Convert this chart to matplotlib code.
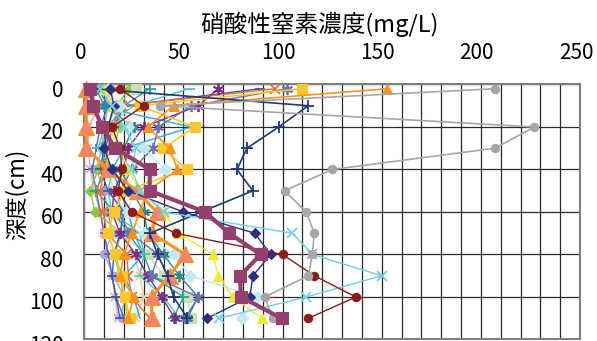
import numpy as np
import matplotlib
matplotlib.use("Agg")
import matplotlib.pyplot as plt
from matplotlib.transforms import ScaledTranslation

plt.rcParams['font.family'] = ['Noto Sans CJK JP', 'DejaVu Sans']

# sampling depths (cm)
depth = [2, 10, 20, 30, 40, 50, 60, 70, 80, 90, 100, 110]

x_ticks = [0, 50, 100, 150, 200, 250]
y_ticks = [0, 20, 40, 60, 80, 100, 120]

# nitrate-nitrogen concentration (mg/L) per sampling site
s_pink_x      = [16.3, 8, 2, 2, 3, 5, 8, 10, 12, 14, 15.5, 17]
s_lav_circle  = [9.3, 12.1, 10, 8.8, 6, 10, 12, 14, 10, 15, 20, 18.9]
s_blue_plus   = [7, 12, 8, 6, 4, 6, 8, 10, 12, 14, 16, 20]
s_peach       = [6, 18, 25, 20, 22, 18, 15, 20, 25, 28, 30, 26]
s_sky         = [3, 6, 54, 20, 14, 18, 22, 25, 30, 20, 25, 28]
s_green_dia   = [22.7, 16, 18, 14.6, 7, 2.9, 5.4, 18.9, 15, 18, 20, 22]
s_lgreen_sq   = [26, 16, 12, 10, 12, 15, 20, 18, 32, 40, 51.6, 54]
s_teal_plus   = [33, 20, 12, 9, 10, 6, 15, 22, 30, 34, 50, 45]
s_teal_dash   = [52.8, 25, 10, 7, 14, 12, 14, 28, 30, 28, 40, 48]
s_navy_dash   = [88.5, 20, 15, 10, 8, 12, 20, 18, 15, 14, 16, 18]
s_dteal_ast   = [6, 10, 25, 20, 18, 24, 30, 32, 40, 48, 57.4, 52]
s_orange_x    = [96, 18.9, 14, 12, 10, 8, 9.6, 11.3, 21.4, 22.2, 23.9, 33]
s_purple_ast  = [67.5, 57.4, 30, 22, 20, 15, 14, 18, 26, 32, 39, 45.7]
s_lav_ast     = [102.3, 54, 37.3, 34.8, 23.9, 18, 17, 23, 37.3, 34, 57.4, 50.8]
s_lcyan_dia   = [12, 18, 22, 30, 40.7, 25, 22, 30, 45, 53.3, 87.2, 79.3]
s_yellow_sq   = [109.6, 28, 55.8, 39.8, 51.6, 20.5, 15, 12, 15.5, 18.9, 20.5, 23]
s_yellow_tri  = [10, 14.6, 12, 18, 22, 28, 40, 47.4, 65, 67.5, 75, 89.4]
s_orange_tri  = [152.6, 45, 32, 43, 47, 32, 28, 24, 20, 18, 25, 22]
s_salmon_tri  = [1, 1, 1, 1, 12, 26.4, 36.5, 34, 51, 43, 34, 34]
s_navy_dia    = [13, 15, 12, 10, 14, 22, 50, 86, 94, 85, 83.5, 62]
s_navy_plus   = [5, 113, 98, 82, 77, 85, 59, 33, 37, 42, 45, 52]
s_cyan_x      = [8, 14, 20, 26, 24, 28, 40, 105, 115, 150, 112, 68]
s_maroon      = [18, 30, 14, 18, 19, 17, 24, 46, 100, 116, 137, 113]
s_gray        = [207, 38, 227, 207, 125, 101, 112, 116, 115, 113, 91, 95]
s_plum_sq     = [3, 4.5, 9, 15.5, 33, 33, 61, 73, 89, 78.5, 79, 99.5]

ast = (6, 2, 0)  # asterisk marker

series = [
    # values, line colour, marker, size, line width, marker face colour
    (s_pink_x,     '#f4a0c6', 'x', 6, 1.0, None),
    (s_lav_circle, '#b4a1d7', 'o', 6, 1.0, None),
    (s_blue_plus,  '#4a6fc0', '+', 6, 1.0, None),
    (s_peach,      '#f9c89b', 'x', 6, 1.0, None),
    (s_sky,        '#2aace2', '', 0, 1.0, None),
    (s_green_dia,  '#8dc63f', 'D', 5, 1.0, None),
    (s_lgreen_sq,  '#c6e0b4', 's', 7, 1.0, None),
    (s_teal_plus,  '#2a9c9c', '+', 8, 1.0, None),
    (s_teal_dash,  '#4ec4c8', '_', 8, 1.0, None),
    (s_navy_dash,  '#3b5aa8', '_', 7, 1.0, None),
    (s_dteal_ast,  '#2e8a90', ast, 8, 1.0, None),
    (s_orange_x,   '#f26b35', 'x', 7, 1.0, None),
    (s_purple_ast, '#7e2b87', ast, 8, 1.0, None),
    (s_lav_ast,    '#6e6fb3', ast, 8, 1.0, None),
    (s_lcyan_dia,  '#c2e9f3', 'D', 6, 1.0, None),
    (s_yellow_sq,  '#fcc72c', 's', 7, 1.2, None),
    (s_yellow_tri, '#efe83a', '^', 7, 1.0, None),
    (s_orange_tri, '#f7941d', '^', 7, 1.2, None),
    (s_salmon_tri, '#f7941d', '^', 11, 2.2, '#f4836f'),
    (s_navy_dia,   '#2b2e83', 'D', 5, 1.0, None),
    (s_navy_plus,  '#1f3b70', '+', 8, 1.2, None),
    (s_cyan_x,     '#72d0df', 'x', 7, 1.0, None),
    (s_maroon,     '#8b1c1c', 'o', 6, 1.0, None),
    (s_gray,       '#a6a6a6', 'o', 6, 1.2, None),
    (s_plum_sq,    '#953f6f', 's', 9, 3.0, None),
]

fig = plt.figure(figsize=(5.97, 3.41), dpi=100)
ax = fig.add_axes([0.1412, 0.0044, 0.8303, 0.7478])

for vals, col, mk, ms, lw, mfc in series:
    ax.plot(vals, depth, color=col, lw=lw, marker=mk if mk else None,
            markersize=ms, markerfacecolor=mfc if mfc else col,
            markeredgecolor=col, markeredgewidth=1.3 if mk in ('x', '+', '_') or mk == ast else 0.8,
            clip_on=False, zorder=3)

ax.set_xlim(0, 250)
ax.set_ylim(120, 0)
ax.xaxis.tick_top()
ax.set_xticks(x_ticks)
ax.set_yticks(y_ticks)
ax.set_xticks(np.arange(0, 251, 10), minor=True)
ax.tick_params(which='both', length=0)
ax.tick_params(axis='x', labelsize=15, pad=15)
ax.tick_params(axis='y', labelsize=15, pad=15)

ax.grid(True, axis='x', which='both', color='#2a2a2a', lw=0.9, zorder=1)
ax.grid(True, axis='y', which='major', color='#2a2a2a', lw=0.9, zorder=1)
ax.set_axisbelow(True)
for sp in ax.spines.values():
    sp.set_color('#7f7f7f')
    sp.set_linewidth(1.5)

dx = ScaledTranslation(-0.04, 0, fig.dpi_scale_trans)
for lab in ax.get_xticklabels():
    lab.set_transform(lab.get_transform() + dx)
dy = ScaledTranslation(0, -0.04, fig.dpi_scale_trans)
for lab in ax.get_yticklabels():
    lab.set_transform(lab.get_transform() + dy)

ax.set_ylabel('深度(cm)', fontsize=16)
ax.yaxis.set_label_coords(-0.112, 0.57)

fig.text(0.535, 0.928, '硝酸性窒素濃度(mg/L)', fontsize=17, ha='center', va='center')

fig.savefig('out.png', dpi=100)
